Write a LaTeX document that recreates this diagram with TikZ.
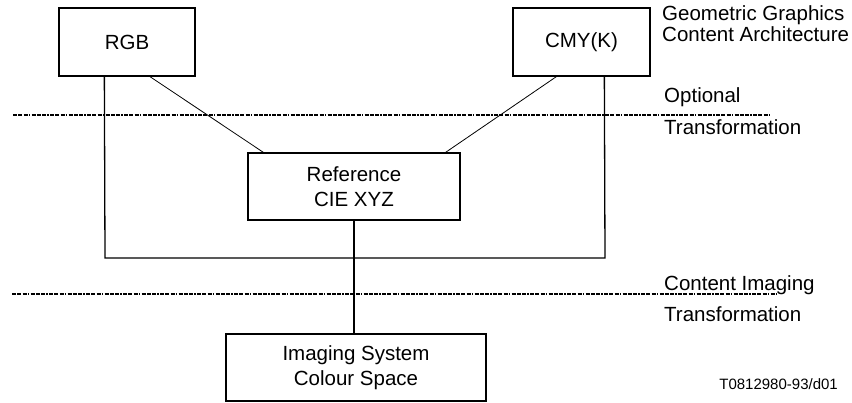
\documentclass[tikz,border=0pt]{standalone}
\usepackage{fontspec}
\setmainfont{Liberation Sans}
\usetikzlibrary{calc}
\begin{document}
\begin{tikzpicture}[x=1pt,y=-1pt,
  spacebox/.style={draw,line width=1.3pt,inner sep=0pt,align=center,
    font=\fontsize{20.5}{24.5}\selectfont},
  label/.style={inner sep=0pt,anchor=base west,font=\fontsize{20.5}{21}\selectfont},
  link/.style={line width=0.8pt},
  frame/.style={line width=1.3pt},
  boundary/.style={line width=1.5pt,
    dash pattern=on 4pt off 1.3pt on 4pt off 1.3pt on 4pt off 1.3pt on 1.3pt off 1.3pt}]
\useasboundingbox (0,0) rectangle (852,403);

% colour space boxes
\node[spacebox,minimum width=136pt,minimum height=68pt] (rgb) at (127,42) {RGB};
\node[spacebox,minimum width=137pt,minimum height=68pt] (cmy) at (581.5,42) {CMY(K)};
\node[spacebox,minimum width=212pt,minimum height=67pt] (ref) at (354,186.5) {Reference\\CIE XYZ};
\node[spacebox,minimum width=260pt,minimum height=67pt] (img) at (356,367.5) {Imaging System\\Colour Space};

% layer boundaries
\coordinate (b1l) at (13,115);
\coordinate (b1r) at (770,115);
\coordinate (b2l) at (12,294);
\coordinate (b2r) at (776,294);
\draw[boundary] (b1l) -- (b1r);
\draw[boundary] (b2l) -- (b2r);

% optional transformations through the reference space
\draw[link] ($(rgb.south)+(23,0)$) -- ($(ref.north west)+(16,0)$);
\draw[link] ($(cmy.south west)+(44,0)$) -- ($(ref.north east)+(-15,0)$);

% direct path between RGB and CMY(K)
\coordinate (ubl) at (105,258);
\coordinate (ubr) at (605,258);
\draw[frame] ($(rgb.south west)+(46,0)$) -- (ubl) -- (ubr) -- ($(cmy.south west)+(92,0)$);

% content imaging transformation
\draw[line width=2.2pt] (ref.south) -- (ref.south |- img.north);

% layer labels
\node[label] (geo1) at (662,20.7) {Geometric Graphics};
\node[label] (geo2) at (662,41.4) {Content Architecture};
\node[label] (opt1) at (664,103) {Optional};
\node[label] (opt2) at (664,135) {Transformation};
\node[label] (ci1) at (664,291) {Content Imaging};
\node[label] (ci2) at (664,322) {Transformation};
\node[inner sep=0pt,anchor=base east,font=\fontsize{15}{18}\selectfont] (fig) at (838,390) {T0812980-93/d01};
\end{tikzpicture}
\end{document}
